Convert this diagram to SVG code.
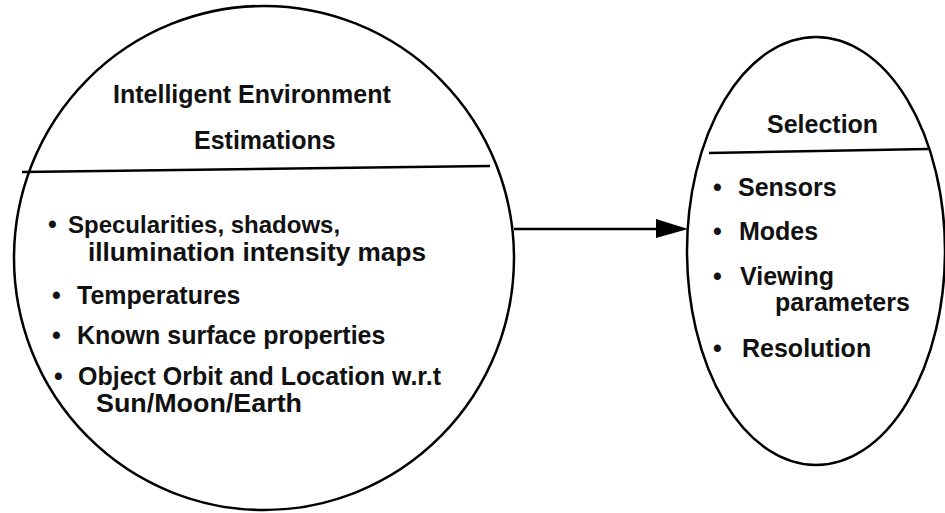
<svg xmlns="http://www.w3.org/2000/svg" width="945" height="513" viewBox="0 0 945 513">
<style>
.shape{fill:none;stroke:#000;stroke-width:2.5}
.div{stroke:#000;stroke-width:2.5}
text{font-family:"Liberation Sans",Arial,sans-serif;font-weight:bold;fill:#111;font-size:25px}
</style>
<rect width="945" height="513" fill="#fff"/>
<g id="node-estimations">
<ellipse class="shape" cx="264" cy="258" rx="250" ry="252"/>
<line class="div" x1="22" y1="172" x2="490" y2="166"/>
<text x="113" y="103">Intelligent Environment</text>
<text x="194" y="149">Estimations</text>
<text y="233"><tspan x="48">•</tspan><tspan x="68" style="font-size:24px">Specularities, shadows,</tspan></text>
<text x="88" y="261" textLength="338" lengthAdjust="spacingAndGlyphs">illumination intensity maps</text>
<text y="304"><tspan x="52">•</tspan><tspan x="77">Temperatures</tspan></text>
<text y="344"><tspan x="52">•</tspan><tspan x="77">Known surface properties</tspan></text>
<text y="385"><tspan x="54">•</tspan><tspan x="78">Object Orbit and Location w.r.t</tspan></text>
<text x="96" y="412" textLength="206" lengthAdjust="spacingAndGlyphs">Sun/Moon/Earth</text>
</g>
<g id="node-selection">
<ellipse class="shape" cx="816" cy="251" rx="129" ry="214"/>
<line class="div" x1="709" y1="153" x2="928" y2="149"/>
<text x="767" y="133">Selection</text>
<text y="196"><tspan x="713">•</tspan><tspan x="738">Sensors</tspan></text>
<text y="240"><tspan x="713">•</tspan><tspan x="739">Modes</tspan></text>
<text y="285"><tspan x="713">•</tspan><tspan x="740">Viewing</tspan></text>
<text x="775" y="311">parameters</text>
<text y="357"><tspan x="713">•</tspan><tspan x="742">Resolution</tspan></text>
</g>
<g id="connectors">
<line x1="514" y1="229" x2="660" y2="229" stroke="#000" stroke-width="2.5"/>
<polygon points="656,219 688,229 656,238" fill="#000"/>
</g>
</svg>
